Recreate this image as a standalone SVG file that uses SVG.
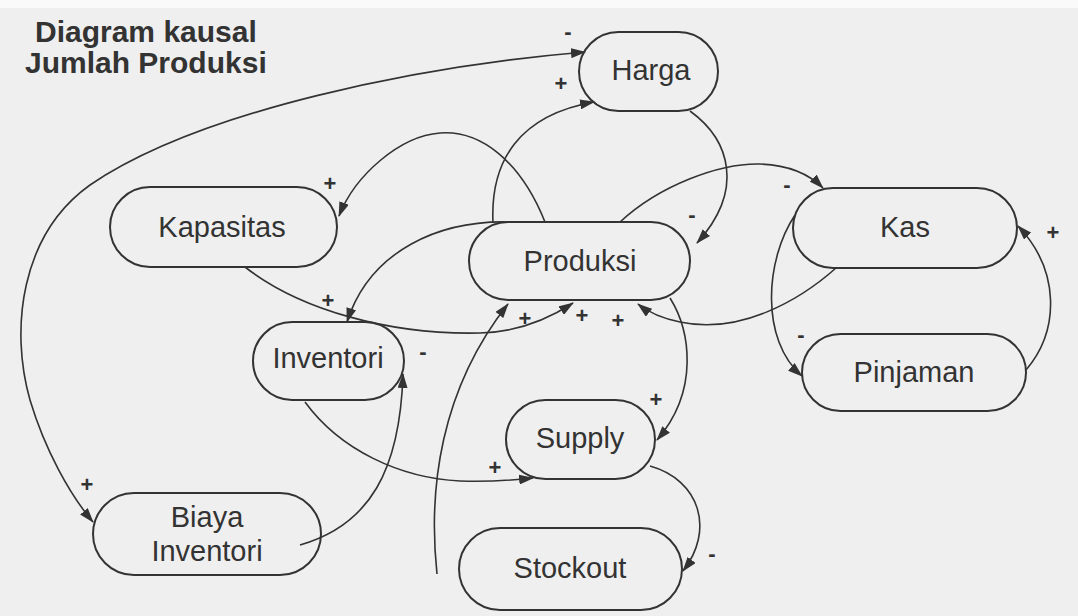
<svg xmlns="http://www.w3.org/2000/svg" width="1078" height="616" viewBox="0 0 1078 616">
<style>
.node{fill:none;stroke:#333;stroke-width:2}
.lbl{font-family:"Liberation Sans",Arial,sans-serif;font-size:29px;fill:#333;text-anchor:middle}
.title{font-family:"Liberation Sans",Arial,sans-serif;font-size:30px;font-weight:bold;fill:#333}
.sign{font-family:"Liberation Sans",Arial,sans-serif;font-size:22px;font-weight:bold;fill:#333;text-anchor:middle}
.edge{fill:none;stroke:#333;stroke-width:1.6}
</style>
<defs>
<marker id="ah" viewBox="0 0 15 10" refX="14" refY="5" markerWidth="15" markerHeight="10" markerUnits="userSpaceOnUse" orient="auto-start-reverse">
<path d="M0,0 L15,5 L0,10 Z" fill="#333"/>
</marker>
</defs>
<rect x="0" y="0" width="1078" height="616" fill="#efefef"/>
<rect x="0" y="0" width="1078" height="8" fill="#fafafa"/>
<g id="title">
<text class="title" x="35" y="42">Diagram kausal</text>
<text class="title" x="25" y="73">Jumlah Produksi</text>
</g>
<g id="connectors">
<path class="edge" d="M585,52 C420,66 200,110 90,185 C20,235 10,330 30,400 C45,450 70,495 93,522" marker-start="url(#ah)" marker-end="url(#ah)"/>
<path class="edge" d="M493,223 C490,160 520,115 594,102" marker-end="url(#ah)"/>
<path class="edge" d="M545,222 C520,160 480,130 440,133 C400,136 355,175 339,216" marker-end="url(#ah)"/>
<path class="edge" d="M690,111 C730,140 745,190 697,243" marker-end="url(#ah)"/>
<path class="edge" d="M620,222 C660,185 720,163 760,164 C790,165 810,175 823,188" marker-end="url(#ah)"/>
<path class="edge" d="M836,268 C800,300 740,335 680,322 C660,318 648,312 638,304" marker-end="url(#ah)"/>
<path class="edge" d="M795,215 C765,260 760,340 802,376" marker-end="url(#ah)"/>
<path class="edge" d="M1026,370 C1060,330 1060,270 1018,226" marker-end="url(#ah)"/>
<path class="edge" d="M245,267 C300,310 390,335 480,333 C520,332 550,318 573,303" marker-end="url(#ah)"/>
<path class="edge" d="M510,222 C440,220 370,250 347,322" marker-end="url(#ah)"/>
<path class="edge" d="M300,545 C370,525 400,470 403,374" marker-end="url(#ah)"/>
<path class="edge" d="M305,402 C340,450 400,478 460,481 C490,482 515,480 533,478" marker-end="url(#ah)"/>
<path class="edge" d="M670,298 C690,330 700,390 657,440" marker-end="url(#ah)"/>
<path class="edge" d="M650,466 C700,480 715,530 683,571" marker-end="url(#ah)"/>
<path class="edge" d="M437,574 C428,490 440,390 508,304" marker-end="url(#ah)"/>
</g>
<g id="signs">
<text class="sign" x="568" y="39">-</text>
<text class="sign" x="561" y="91">+</text>
<text class="sign" x="330" y="191">+</text>
<text class="sign" x="692" y="222">-</text>
<text class="sign" x="787" y="192">-</text>
<text class="sign" x="1053" y="240">+</text>
<text class="sign" x="801" y="342">-</text>
<text class="sign" x="328" y="308">+</text>
<text class="sign" x="423" y="359">-</text>
<text class="sign" x="525" y="326">+</text>
<text class="sign" x="582" y="323">+</text>
<text class="sign" x="618" y="328">+</text>
<text class="sign" x="656" y="407">+</text>
<text class="sign" x="495" y="475">+</text>
<text class="sign" x="712" y="561">-</text>
<text class="sign" x="87" y="492">+</text>
</g>
<g id="harga"><rect class="node" x="579" y="32" width="139" height="79" rx="39.5"/><text class="lbl" x="651" y="80">Harga</text></g>
<g id="kapasitas"><rect class="node" x="110" y="187" width="227" height="80" rx="40"/><text class="lbl" x="222" y="237">Kapasitas</text></g>
<g id="produksi"><rect class="node" x="469" y="222" width="221" height="78" rx="39"/><text class="lbl" x="580" y="271">Produksi</text></g>
<g id="kas"><rect class="node" x="793" y="188" width="224" height="80" rx="40"/><text class="lbl" x="905" y="237">Kas</text></g>
<g id="pinjaman"><rect class="node" x="802" y="334" width="224" height="77" rx="38.5"/><text class="lbl" x="914" y="382">Pinjaman</text></g>
<g id="inventori"><rect class="node" x="253" y="322" width="151" height="78" rx="39"/><text class="lbl" x="328" y="368">Inventori</text></g>
<g id="supply"><rect class="node" x="506" y="400" width="149" height="79" rx="39.5"/><text class="lbl" x="580" y="448">Supply</text></g>
<g id="stockout"><rect class="node" x="459" y="528" width="223" height="82" rx="41"/><text class="lbl" x="570" y="578">Stockout</text></g>
<g id="biaya-inventori"><rect class="node" x="93" y="493" width="228" height="82" rx="41"/><text class="lbl" x="207" y="527">Biaya</text><text class="lbl" x="207" y="561">Inventori</text></g>
</svg>
